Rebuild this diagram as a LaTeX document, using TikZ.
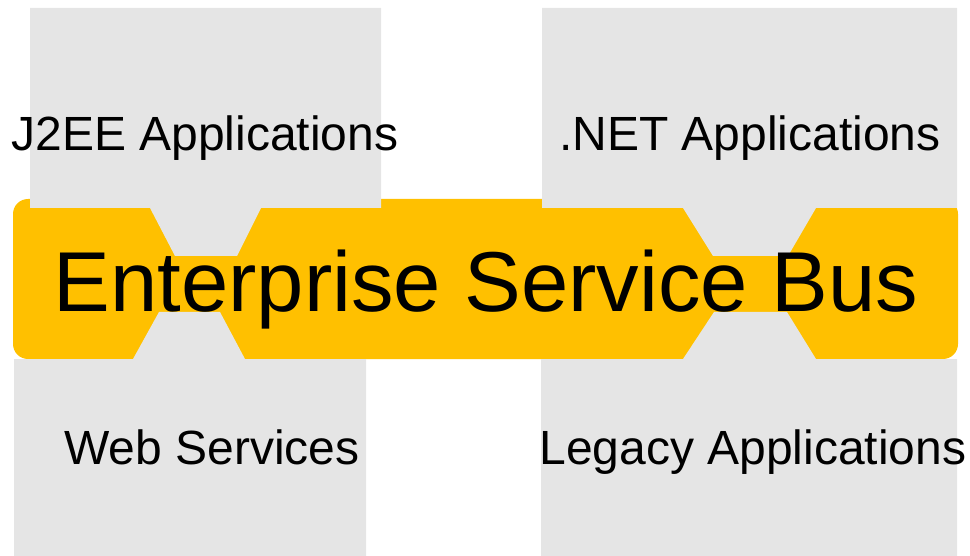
\documentclass[tikz,border=0pt]{standalone}
\usepackage{fontspec}
\setmainfont{Liberation Sans}

\definecolor{busgold}{RGB}{255,192,0}
\definecolor{appgray}{RGB}{229,229,229}

\begin{document}
\begin{tikzpicture}[x=1pt, y=-1pt,
        appbox/.style={fill=appgray},
        applabel/.style={anchor=base, inner sep=0pt, font=\fontsize{48}{58}\selectfont},
        buslabel/.style={anchor=base, inner sep=0pt, font=\fontsize{85}{100}\selectfont}]
            \useasboundingbox (0,0) rectangle (970,556);

            \fill[busgold, rounded corners=15pt] (13,199) rectangle (958,359);

            \fill[appbox] (30,8) -- (381,8) -- (381,208) -- (261,208) -- (237,256) -- (175,256) -- (150,208) -- (30,208) -- cycle;
            \fill[appbox] (542,8) -- (957,8) -- (957,208) -- (816,208) -- (788,256) -- (713,256) -- (683,208) -- (542,208) -- cycle;
            \fill[appbox] (14,556) -- (14,359) -- (133,359) -- (159,312) -- (220,312) -- (245,359) -- (366,359) -- (366,556) -- cycle;
            \fill[appbox] (541,556) -- (541,359) -- (683,359) -- (714,312) -- (787,312) -- (816,359) -- (957,359) -- (957,556) -- cycle;

            \node[applabel] (j2ee) at (205,151) {J2EE Applications};
            \node[applabel] (dotnet) at (750,151) {.NET Applications};
            \node[applabel] (websvc) at (212,464) {Web Services};
            \node[applabel] (legacy) at (753,464) {Legacy Applications};
            \node[buslabel] (esb) at (486,312) {Enterprise Service Bus};
        \end{tikzpicture}
\end{document}
